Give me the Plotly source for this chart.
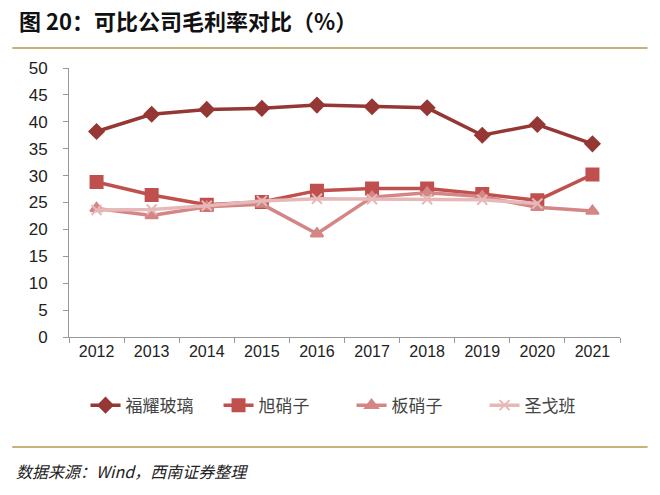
import plotly.graph_objects as go

years = ["2012", "2013", "2014", "2015", "2016", "2017", "2018", "2019", "2020", "2021"]
fuyao = [38.2, 41.4, 42.3, 42.5, 43.1, 42.8, 42.6, 37.5, 39.5, 35.9]
asahi = [28.8, 26.4, 24.6, 25.1, 27.2, 27.6, 27.6, 26.6, 25.4, 30.2]
nsg = [23.9, 22.6, 24.2, 24.7, 19.2, 26.0, 26.8, 26.1, 24.1, 23.4]
saint = [23.6, 23.7, 24.4, 25.3, 25.7, 25.6, 25.6, 25.5, 24.8, None]
y_ticks = [0, 5, 10, 15, 20, 25, 30, 35, 40, 45, 50]

series = [
    ("福耀玻璃", fuyao, "#953735", "diamond", 11),
    ("旭硝子", asahi, "#C0504D", "square", 12),
    ("板硝子", nsg, "#D38685", "triangle-up", 11),
    ("圣戈班", saint, "#E6B9B8", "x-thin-open", 10),
]

fig = go.Figure()
for name, vals, color, sym, size in series:
    fig.add_trace(go.Scatter(
        x=years, y=vals, name=name, mode="lines+markers",
        line=dict(color=color, width=3.5),
        marker=dict(symbol=sym, size=size, color=color,
                    line=dict(color=color, width=2)),
        connectgaps=False,
    ))

fig.update_layout(
    width=660, height=495,
    margin=dict(l=69, r=40, t=68, b=158),
    paper_bgcolor="white", plot_bgcolor="white",
    font=dict(family="Liberation Sans, Arial, Noto Sans CJK SC", size=15, color="#222"),
    showlegend=True,
    legend=dict(orientation="h", x=0.03, xanchor="left", y=-0.255, yanchor="middle",
                font=dict(family="Noto Sans CJK SC", size=17, color="#444"),
                entrywidth=88, entrywidthmode="pixels", itemwidth=30,
                traceorder="normal"),
    xaxis=dict(type="category", range=[-0.5, len(years) - 0.5], showgrid=False,
               showline=True, linecolor="#999",
               linewidth=1, ticks="outside", tickcolor="#999", ticklen=5,
               tickson="boundaries", tickfont=dict(size=16, color="#222")),
    yaxis=dict(range=[0, 50], tickvals=y_ticks, showgrid=False, showline=True,
               linecolor="#999", linewidth=1, ticks="outside", tickcolor="#999",
               ticklen=5, ticklabelstandoff=12, zeroline=False,
               tickfont=dict(size=17, color="#222")),
    shapes=[
        dict(type="line", xref="paper", yref="paper", x0=-0.103, x1=1.05,
             y0=1.0 + 20 / 269, y1=1.0 + 20 / 269, line=dict(color="#C9B27A", width=2)),
        dict(type="line", xref="paper", yref="paper", x0=-0.103, x1=1.05,
             y0=-110 / 269, y1=-110 / 269, line=dict(color="#C9B27A", width=2)),
    ],
    annotations=[
        dict(text="<b>图 20：可比公司毛利率对比（%）</b>", xref="paper", yref="paper",
             x=-0.095, y=1.0 + 48 / 269, xanchor="left", yanchor="middle", showarrow=False,
             font=dict(family="Noto Sans CJK SC", size=22, color="#111")),
        dict(text="<i>数据来源：Wind，西南证券整理</i>", xref="paper", yref="paper",
             x=-0.1, y=-134 / 269, xanchor="left", yanchor="middle", showarrow=False,
             font=dict(family="Noto Sans CJK SC", size=16, color="#222")),
    ],
)

fig.write_html("out.html", config={"displayModeBar": False},
               post_script="document.body.style.margin='0';")
